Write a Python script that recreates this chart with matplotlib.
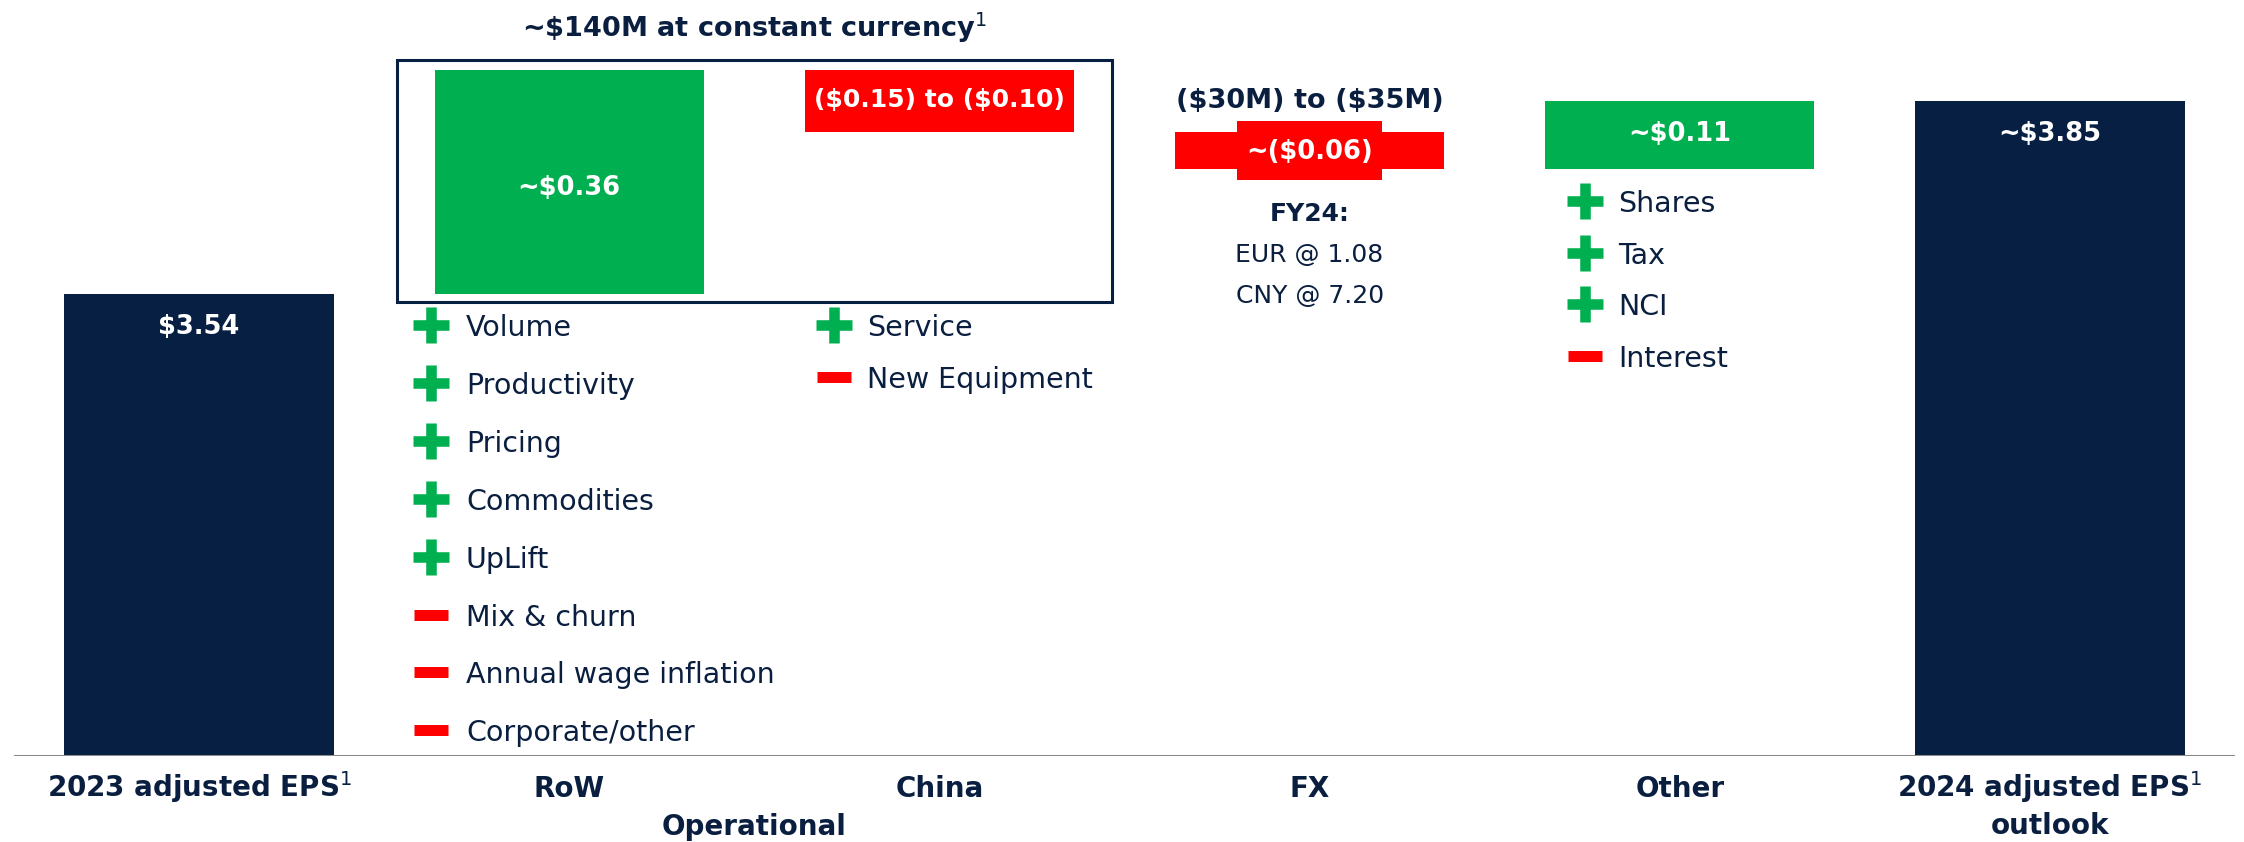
import matplotlib
matplotlib.use("Agg")
import matplotlib.pyplot as plt
from matplotlib.patches import Rectangle
import matplotlib.transforms as mtransforms

# ---------------- data ----------------
categories = ["2023 adjusted EPS", "RoW", "China", "FX", "Other", "2024 adjusted EPS"]
second_line = {5: "outlook"}
superscript_cats = [0, 5]
start_eps = 3.54
deltas = [0.36, -0.10, -0.06, 0.11]
end_eps = 3.85
value_labels = ["$3.54", "~$0.36", "($0.15) to ($0.10)", "~($0.06)", "~$0.11", "~$3.85"]

row_items = [("+", "Volume"), ("+", "Productivity"), ("+", "Pricing"),
             ("+", "Commodities"), ("+", "UpLift"), ("-", "Mix & churn"),
             ("-", "Annual wage inflation"), ("-", "Corporate/other")]
china_items = [("+", "Service"), ("-", "New Equipment")]
other_items = [("+", "Shares"), ("+", "Tax"), ("+", "NCI"), ("-", "Interest")]
fx_notes = ["FY24:", "EUR @ 1.08", "CNY @ 7.20"]
fx_range = "($30M) to ($35M)"
group_title = "~$140M at constant currency"
group_label = "Operational"

# ---------------- style ----------------
NAVY = "#061F42"
TEXT = "#0A1F40"
GREEN = "#00B050"
RED = "#FF0000"
AXIS = "#8A8A8A"

plt.rcParams["font.family"] = ["DejaVu Sans"]
plt.rcParams["mathtext.fontset"] = "dejavusans"

W, H = 2244, 842
fig = plt.figure(figsize=(W / 100, H / 100), dpi=100)
ax_h_px = 756
ax = fig.add_axes([14 / W, (H - ax_h_px) / H, 2221 / W, ax_h_px / H])
ax.set_xlim(-0.5, len(categories) - 0.5)
ax.set_ylim(2.798, 4.012)
ax.axis("off")

bar_w = 0.728
SUP = r"$^{\mathrm{1}}$"


def esc(s):
    return s.replace("$", r"\$")


def from_top(px):
    return 1 - px / ax_h_px


trans = mtransforms.blended_transform_factory(ax.transData, ax.transAxes)

# ---------------- bars ----------------
ax.bar(0, start_eps, width=bar_w, color=NAVY, zorder=2)
ax.bar(len(categories) - 1, end_eps, width=bar_w, color=NAVY, zorder=2)

levels = [start_eps]
for d in deltas:
    levels.append(levels[-1] + d)

mids = {}
for i, d in enumerate(deltas):
    lo = min(levels[i], levels[i + 1])
    hi = max(levels[i], levels[i + 1])
    ax.bar(i + 1, hi - lo, bottom=lo, width=bar_w,
           color=GREEN if d > 0 else RED, zorder=2)
    mids[i + 1] = (lo, hi)

ax.axhline(ax.get_ylim()[0], color=AXIS, lw=2.2, zorder=3)

# ---------------- value labels ----------------
vfs = 18.5
for i, tot in [(0, start_eps), (len(categories) - 1, end_eps)]:
    ax.annotate(value_labels[i], xy=(i, tot), xytext=(0, -40),
                textcoords="offset pixels", ha="center", va="baseline",
                color="white", fontsize=vfs, fontweight="bold", zorder=5,
                parse_math=False)

# FX label background box
fx_lo, fx_hi = mids[3]
ax.add_patch(Rectangle((3 - 0.195, fx_lo - 0.017), 0.39, (fx_hi - fx_lo) + 0.035,
                       facecolor=RED, edgecolor="none", zorder=3))

offsets = {1: -6, 2: 1, 3: -1, 4: 1}
label_sizes = {1: vfs, 2: 18, 3: vfs, 4: vfs}
for i in range(1, 5):
    lo, hi = mids[i]
    ax.annotate(value_labels[i], xy=(i, (lo + hi) / 2), xytext=(0, offsets[i]),
                textcoords="offset pixels", ha="center", va="center",
                color="white", fontsize=label_sizes[i], fontweight="bold", zorder=5,
                parse_math=False)

# ---------------- group box & title ----------------
g_lo = levels[0] - 0.013
g_hi = levels[1] + 0.015
ax.add_patch(Rectangle((1 - 0.466, g_lo), 1 + 0.466 + 0.465, g_hi - g_lo,
                       facecolor="none", edgecolor=NAVY, lw=2.2, zorder=4))
ax.annotate(esc(group_title) + SUP, xy=(1.5, g_hi),
            xytext=(0, 23), textcoords="offset pixels", ha="center",
            va="baseline", color=TEXT, fontsize=19.5, fontweight="bold")

# ---------------- FX notes ----------------
ax.annotate(fx_range, xy=(3, fx_hi + 0.018), xytext=(0, 13),
            textcoords="offset pixels", ha="center", va="baseline",
            color=TEXT, fontsize=19.5, fontweight="bold", parse_math=False)
for k, note in enumerate(fx_notes):
    ax.annotate(note, xy=(3, fx_lo), xytext=(0, -(52 + 41 * k)),
                textcoords="offset pixels", ha="center", va="baseline",
                color=TEXT, fontsize=18, fontweight="bold" if k == 0 else "normal",
                parse_math=False)


# ---------------- driver lists ----------------
def draw_items(items, cat, dx_icon, dx_text, first_px, step_px):
    for k, (sign, label) in enumerate(items):
        cy = first_px + k * step_px
        yc = from_top(cy)
        if sign == "+":
            ax.plot([cat + dx_icon], [yc], transform=trans, marker="+",
                    markersize=26.5, markeredgewidth=7.6, color=GREEN,
                    linestyle="none", zorder=5, clip_on=False)
        else:
            ax.plot([cat + dx_icon], [yc], transform=trans, marker="_",
                    markersize=25, markeredgewidth=7.9, color=RED,
                    linestyle="none", zorder=5, clip_on=False)
        ax.text(cat + dx_text, from_top(cy + 11), label, transform=trans,
                ha="left", va="baseline", color=TEXT, fontsize=20.5,
                parse_math=False)


draw_items(row_items, 1, -0.374, -0.279, 325, 57.9)
draw_items(china_items, 2, -0.285, -0.196, 325, 52)
draw_items(other_items, 4, -0.255, -0.167, 201, 51.7)

# ---------------- category labels ----------------
for i, cat in enumerate(categories):
    txt = esc(cat) + (SUP if i in superscript_cats else "")
    ax.annotate(txt, xy=(i, 0), xycoords=trans, xytext=(0, -41),
                textcoords="offset pixels", ha="center", va="baseline",
                color=TEXT, fontsize=20, fontweight="bold", annotation_clip=False)
    if i in second_line:
        ax.annotate(second_line[i], xy=(i, 0), xycoords=trans, xytext=(0, -78),
                    textcoords="offset pixels", ha="center", va="baseline",
                    color=TEXT, fontsize=20, fontweight="bold", annotation_clip=False)

ax.annotate(group_label, xy=(1.5, 0), xycoords=trans, xytext=(0, -79),
            textcoords="offset pixels", ha="center", va="baseline",
            color=TEXT, fontsize=20, fontweight="bold", annotation_clip=False)

fig.savefig("out.png", dpi=100, facecolor="white")
